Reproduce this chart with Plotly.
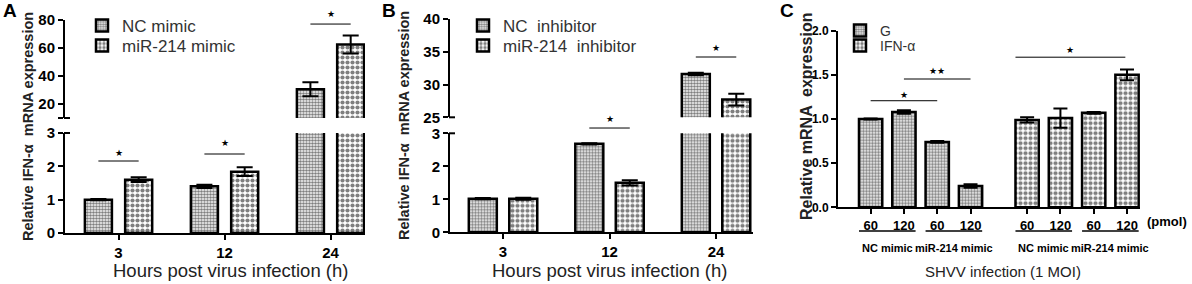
import plotly.graph_objects as go

# ---------------- data ----------------
A_labels = ["3", "12", "24"]
A_nc = [1.0, 1.4, 30.5]
A_nc_err = [0.02, 0.05, 5.0]
A_mir = [1.6, 1.84, 62.5]
A_mir_err = [0.07, 0.13, 6.5]

B_labels = ["3", "12", "24"]
B_nc = [1.02, 2.68, 31.6]
B_nc_err = [0.02, 0.02, 0.2]
B_mir = [1.02, 1.5, 27.7]
B_mir_err = [0.03, 0.08, 0.9]

C_doses = ["60", "120", "60", "120"]
C_groups = ["NC mimic", "miR-214 mimic"]
C_G = [1.0, 1.08, 0.74, 0.24]
C_G_err = [0.005, 0.02, 0.01, 0.02]
C_IFN = [0.99, 1.01, 1.07, 1.50]
C_IFN_err = [0.03, 0.11, 0.01, 0.06]

# significance marks: (axis, x0, x1, y_line, y_star, text)
A_sig = [("y", -0.19, 0.19, 2.16, 2.41, "★"),
         ("y", 0.81, 1.19, 2.37, 2.71, "★"),
         ("y2", 1.81, 2.19, 77.1, 84.3, "★")]
B_sig = [("y3", 0.81, 1.19, 3.16, 3.43, "★"),
         ("y4", 1.81, 2.19, 34.2, 35.5, "★")]
C_sig = [("y5", 0.0, 2.0, 1.207, 1.27, "★"),
         ("y5", 1.0, 3.0, 1.453, 1.543, "★★"),
         ("y5", 4.35, 7.65, 1.70, 1.78, "★")]

# ---------------- layout helpers ----------------
W, H = 1192, 284
FONT = "Liberation Sans, Arial, sans-serif"


def px(x):
    return x / W


def py(y):
    return 1 - y / H


DOM = {
    "y": (py(233), py(133)), "y2": (py(118), py(20)),
    "y3": (py(232.3), py(133.3)), "y4": (py(117.3), py(19)),
    "y5": (py(207.3), py(30.7)),
}
RNG = {"y": (0, 3), "y2": (10, 80), "y3": (0, 3), "y4": (25, 40), "y5": (0, 2)}


def ypaper(ax, v):
    d0, d1 = DOM[ax]
    r0, r1 = RNG[ax]
    return d0 + (v - r0) / (r1 - r0) * (d1 - d0)


fine = dict(shape=".", size=3, solidity=0.6, fgcolor="black", bgcolor="white")
coarse = dict(shape=".", size=5, solidity=0.55, fgcolor="black", bgcolor="white")


def errbar(arr, w=8):
    return dict(type="data", array=arr, visible=True, color="black", thickness=2, width=w)


fig = go.Figure()

# ---------------- panel A ----------------
A_pos = list(range(len(A_labels)))
for name, vals, errs, pat, off, leg in [("NC mimic", A_nc, A_nc_err, fine, -0.3175, "legend"),
                                        ("miR-214 mimic", A_mir, A_mir_err, coarse, 0.0625, "legend2")]:
    for yax in ["y", "y2"]:
        fig.add_trace(go.Bar(
            x=A_pos, y=vals, error_y=errbar(errs), xaxis="x", yaxis=yax,
            width=0.255, offset=off, name=name, legend=leg,
            showlegend=(yax == "y"),
            marker=dict(color="white", pattern=pat, line=dict(color="black", width=2.5)),
        ))

# ---------------- panel B ----------------
B_pos = list(range(len(B_labels)))
for name, vals, errs, pat, off, leg in [("NC  inhibitor", B_nc, B_nc_err, fine, -0.3215, "legend3"),
                                        ("miR-214  inhibitor", B_mir, B_mir_err, coarse, 0.0585, "legend4")]:
    for yax in ["y3", "y4"]:
        fig.add_trace(go.Bar(
            x=B_pos, y=vals, error_y=errbar(errs), xaxis="x2", yaxis=yax,
            width=0.263, offset=off, name=name, legend=leg,
            showlegend=(yax == "y3"),
            marker=dict(color="white", pattern=pat, line=dict(color="black", width=2.5)),
        ))

# ---------------- panel C ----------------
C_G_pos = [i for i in range(len(C_G))]
C_IFN_pos = [i + 4.7 for i in range(len(C_IFN))]
for name, pos, vals, errs, pat, leg in [("G", C_G_pos, C_G, C_G_err, fine, "legend5"),
                                        ("IFN-α", C_IFN_pos, C_IFN, C_IFN_err, coarse, "legend6")]:
    fig.add_trace(go.Bar(
        x=pos, y=vals, error_y=errbar(errs, 7), xaxis="x3", yaxis="y5",
        width=0.7, name=name, legend=leg,
        marker=dict(color="white", pattern=pat, line=dict(color="black", width=2.5)),
    ))

# ---------------- axes ----------------
tickf = dict(family=FONT, size=15, color="black", weight="bold")
axline = dict(showline=True, linecolor="black", linewidth=2, ticks="outside",
              ticklen=5, tickwidth=2, tickcolor="black", showgrid=False, zeroline=False,
              automargin=False)

fig.update_layout(
    xaxis=dict(domain=[px(65), px(365)], range=[-0.505, 2.325], anchor="y",
               tickvals=A_pos, ticktext=A_labels, tickfont=dict(tickf, size=15), **axline),
    yaxis=dict(domain=list(DOM["y"]), range=list(RNG["y"]), anchor="x",
               tickvals=[0, 1, 2, 3], tickfont=tickf, **axline),
    yaxis2=dict(domain=list(DOM["y2"]), range=list(RNG["y2"]), anchor="x",
                tickvals=[10, 20, 40, 60, 80], ticktext=["", "20", "40", "60", "80"],
                tickfont=tickf, **axline),
    xaxis2=dict(domain=[px(450), px(753)], range=[-0.498, 2.347], anchor="y3",
                tickvals=B_pos, ticktext=B_labels, tickfont=dict(tickf, size=15), **axline),
    yaxis3=dict(domain=list(DOM["y3"]), range=list(RNG["y3"]), anchor="x2",
                tickvals=[0, 1, 2, 3], tickfont=tickf, **axline),
    yaxis4=dict(domain=list(DOM["y4"]), range=list(RNG["y4"]), anchor="x2",
                tickvals=[25, 30, 35, 40], tickfont=tickf, **axline),
    xaxis3=dict(domain=[px(838), px(1140)], range=[-0.98, 8.09], anchor="y5",
                tickvals=C_G_pos + C_IFN_pos, ticktext=C_doses + C_doses,
                tickfont=dict(tickf, size=13), **axline),
    yaxis5=dict(domain=list(DOM["y5"]), range=list(RNG["y5"]), anchor="x3",
                tickvals=[0, 0.5, 1.0, 1.5, 2.0], ticktext=["0.0", "0.5", "1.0", "1.5", "2.0"],
                tickfont=dict(tickf, size=12), **axline),
)

leg_common = dict(xanchor="left", yanchor="middle", bgcolor="rgba(0,0,0,0)",
                  borderwidth=0, tracegroupgap=0, itemclick=False)
fA = dict(family=FONT, size=17, color="#333")
fC = dict(family=FONT, size=14, color="#333")
fig.update_layout(
    barmode="overlay",
    autosize=False,
    width=W, height=H,
    margin=dict(l=0, r=0, t=0, b=0, pad=0, autoexpand=False),
    paper_bgcolor="white", plot_bgcolor="white",
    font=dict(family=FONT, color="black"),
    legend=dict(x=px(82), y=py(26), font=fA, **leg_common),
    legend2=dict(x=px(82), y=py(46), font=fA, **leg_common),
    legend3=dict(x=px(463), y=py(26), font=fA, **leg_common),
    legend4=dict(x=px(463), y=py(46), font=fA, **leg_common),
    legend5=dict(x=px(840), y=py(31), font=fC, **leg_common),
    legend6=dict(x=px(840), y=py(46), font=fC, **leg_common),
)

shapes = []
annots = []
CM = dict(xanchor="center", yanchor="middle", showarrow=False)

# significance brackets
for (xr, sigs) in [("x", A_sig), ("x2", B_sig), ("x3", C_sig)]:
    for ax, x0, x1, yl, ys, txt in sigs:
        shapes.append(dict(type="line", xref=xr, yref="paper", x0=x0, x1=x1,
                           y0=ypaper(ax, yl), y1=ypaper(ax, yl),
                           line=dict(color="black", width=1)))
        annots.append(dict(xref=xr, yref="paper", x=(x0 + x1) / 2, y=ypaper(ax, ys),
                           text=txt, font=dict(family="DejaVu Sans", size=9), **CM))

# axis break end caps (T-shaped ends of broken axes)
for xa_px, ax, v in [(65, "y", 3), (65, "y2", 10), (450, "y3", 3), (450, "y4", 25)]:
    shapes.append(dict(type="line", xref="paper", yref="paper", x0=px(xa_px - 1), x1=px(xa_px + 5),
                       y0=ypaper(ax, v), y1=ypaper(ax, v), line=dict(color="black", width=2)))

# panel letters
for letter, x, y in [("A", 10, 11), ("B", 389, 11), ("C", 787, 11)]:
    annots.append(dict(xref="paper", yref="paper", x=px(x), y=py(y), text=f"<b>{letter}</b>",
                       font=dict(family=FONT, size=19, color="black"), **CM))

# y titles
for text, x, y, size in [("Relative IFN-α  mRNA expression", 28, 127, 14.5),
                         ("Relative IFN-α  mRNA expression", 404, 126, 14.5),
                         ("Relative mRNA  expression", 806, 117, 16)]:
    annots.append(dict(xref="paper", yref="paper", x=px(x), y=py(y), text=f"<b>{text}</b>",
                       textangle=-90, font=dict(family=FONT, size=size, color="#222"), **CM))

# x titles
for text, x, y, size in [("Hours post virus infection (h)", 230, 270, 18.5),
                         ("Hours post virus infection (h)", 609, 270, 18.5),
                         ("SHVV infection (1 MOI)", 1003, 271, 15)]:
    annots.append(dict(xref="paper", yref="paper", x=px(x), y=py(y), text=text,
                       font=dict(family=FONT, size=size, color="#222"), **CM))

# panel C group labels and underlines
annots.append(dict(xref="paper", yref="paper", x=px(1167), y=py(221), text="<b>(pmol)</b>",
                   font=dict(family=FONT, size=13, color="black"), **CM))
pairs = [C_G_pos[0:2], C_G_pos[2:4], C_IFN_pos[0:2], C_IFN_pos[2:4]]
for i, pr in enumerate(pairs):
    c = sum(pr) / 2
    shapes.append(dict(type="line", xref="x3", yref="paper", x0=c - 0.85, x1=c + 0.85,
                       y0=py(231), y1=py(231), line=dict(color="black", width=1.5)))
    annots.append(dict(xref="x3", yref="paper", x=c, y=py(248), text=f"<b>{C_groups[i % 2]}</b>",
                       font=dict(family=FONT, size=11, color="black"), **CM))

fig.update_layout(shapes=shapes, annotations=annots)
fig.write_html("out.html", config={"displayModeBar": False},
               post_script="document.body.style.margin='0';")
